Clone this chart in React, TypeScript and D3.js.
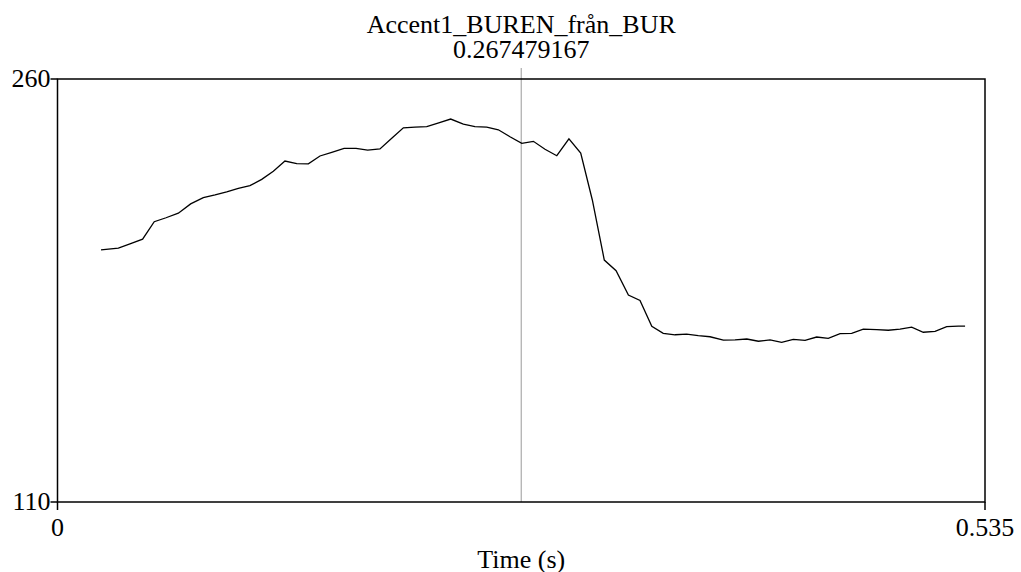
import * as d3 from "d3";
import React from "react";

// samples
const times = [
  0.0251, 0.0351, 0.0418, 0.0491, 0.0558, 0.0626, 0.0697, 0.0768, 0.0841, 0.0909,
  0.0976, 0.1043, 0.111, 0.1178, 0.1245, 0.1312, 0.138, 0.1447, 0.1514, 0.1582,
  0.1653, 0.1722, 0.1789, 0.186, 0.1928, 0.1995, 0.2062, 0.213, 0.2199, 0.2268,
  0.2341, 0.2408, 0.2476, 0.2543, 0.261, 0.2678, 0.2745, 0.2812, 0.288, 0.295,
  0.3018, 0.3085, 0.3154, 0.3222, 0.3293, 0.336, 0.3428, 0.3494, 0.3562, 0.3629,
  0.3696, 0.3764, 0.3841, 0.3908, 0.3976, 0.4043, 0.411, 0.4177, 0.4244, 0.4312,
  0.4379, 0.4446, 0.4514, 0.4581, 0.4648, 0.4725, 0.4792, 0.486, 0.4927, 0.4994,
  0.5062, 0.5129, 0.5196, 0.5235,
];
const values = [
  199.4, 200.0, 201.5, 203.2, 209.4, 210.8, 212.4, 215.7, 217.9, 218.9,
  220.0, 221.2, 222.2, 224.4, 227.3, 230.9, 230.0, 229.9, 232.7, 234.0,
  235.4, 235.4, 234.8, 235.2, 239.0, 242.7, 242.9, 243.1, 244.4, 245.8,
  244.0, 243.1, 242.9, 242.0, 239.5, 237.2, 237.9, 235.1, 232.8, 238.8,
  233.7, 217.1, 195.8, 192.0, 183.4, 181.5, 172.3, 169.8, 169.3, 169.5,
  169.0, 168.6, 167.4, 167.5, 167.8, 167.0, 167.5, 166.6, 167.7, 167.3,
  168.5, 168.0, 169.7, 169.8, 171.3, 171.1, 170.9, 171.3, 172.0, 170.2,
  170.5, 172.2, 172.4, 172.4,
];
const xTicks = [0, 0.535];
const xTickLabels = ["0", "0.535"];
const yTicks = [110, 260];
const yTickLabels = ["110", "260"];
const cursorTime = 0.267479167;
const chartTitle = "Accent1_BUREN_från_BUR";
const cursorLabel = "0.267479167";
const xLabel = "Time (s)";

const W = 1021;
const H = 572;
const margin = { top: 79, right: 36, bottom: 70, left: 57.5 };
const font = "'Liberation Serif', 'Times New Roman', serif";

export default function App() {
  const x = d3.scaleLinear().domain([0, 0.535]).range([margin.left, W - margin.right]);
  const y = d3.scaleLinear().domain([110, 260]).range([H - margin.bottom, margin.top]);

  const pts: [number, number][] = times.map((t, i) => [t, values[i]]);
  const line = d3
    .line<[number, number]>()
    .x((d) => x(d[0]))
    .y((d) => y(d[1]));

  const x0 = x(0);
  const x1 = x(0.535);
  const yTop = y(260);
  const yBot = y(110);
  const cx = (x0 + x1) / 2;

  return (
    <svg
      width={W}
      height={H}
      style={{ position: "absolute", left: 0, top: 0, background: "#fff" }}
      fontFamily={font}
      fontSize={26}
    >
      <text x={cx} y={33} textAnchor="middle" fill="#000">
        {chartTitle}
      </text>
      <text x={cx} y={58} textAnchor="middle" fill="#000">
        {cursorLabel}
      </text>

      {/* cursor starts just under the value label */}
      <line
        x1={x(cursorTime)}
        x2={x(cursorTime)}
        y1={yTop - 11}
        y2={yBot}
        stroke="#999"
        strokeWidth={1}
      />

      <path d={line(pts) ?? ""} fill="none" stroke="#000" strokeWidth={1.3} />

      <rect
        x={x0}
        y={yTop}
        width={x1 - x0}
        height={yBot - yTop}
        fill="none"
        stroke="#000"
        strokeWidth={1.5}
      />

      {yTicks.map((v, i) => (
        <g key={"y" + v}>
          <line x1={x0 - 7} x2={x0} y1={y(v)} y2={y(v)} stroke="#000" strokeWidth={1.5} />
          <text x={x0 - 7} y={y(v) + 8} textAnchor="end" fill="#000">
            {yTickLabels[i]}
          </text>
        </g>
      ))}

      {xTicks.map((v, i) => (
        <g key={"x" + v}>
          <line x1={x(v)} x2={x(v)} y1={yBot} y2={yBot + 8} stroke="#000" strokeWidth={1.5} />
          <text x={x(v)} y={yBot + 34} textAnchor="middle" fill="#000">
            {xTickLabels[i]}
          </text>
        </g>
      ))}

      <text x={cx} y={568} textAnchor="middle" fill="#000">
        {xLabel}
      </text>
    </svg>
  );
}
